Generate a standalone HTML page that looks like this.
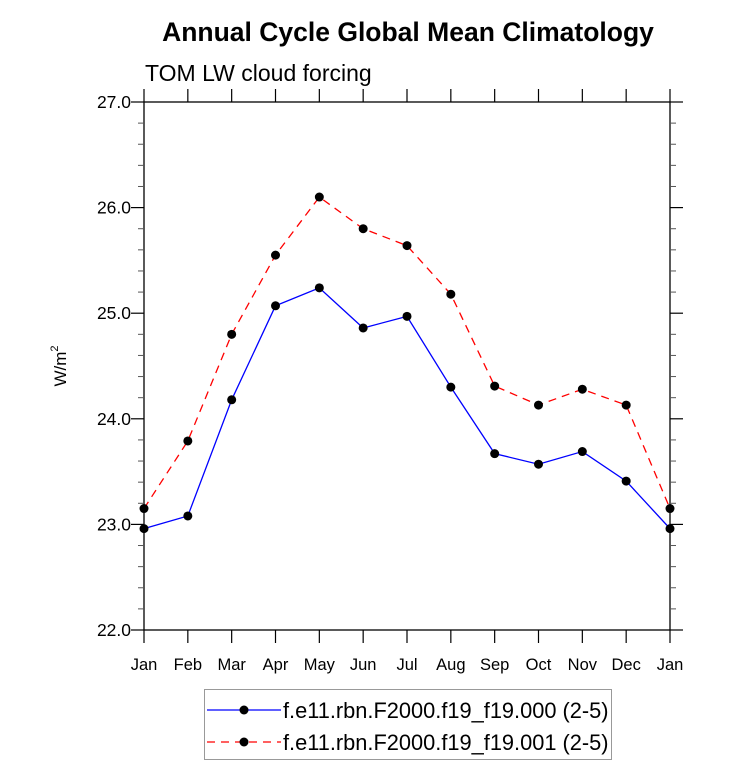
<!DOCTYPE html>
<html><head><meta charset="utf-8"><style>
html,body{margin:0;padding:0;background:#fff;}
svg{display:block;font-family:"Liberation Sans",Arial,sans-serif;}
</style></head><body>
<svg id="chart" width="733" height="782" viewBox="0 0 733 782" xmlns="http://www.w3.org/2000/svg">
<text x="408" y="41" text-anchor="middle" font-size="26.5" font-weight="bold">Annual Cycle Global Mean Climatology</text>
<text x="145" y="81" font-size="23">TOM LW cloud forcing</text>
<text transform="translate(66,366) rotate(-90)" text-anchor="middle" font-size="17">W/m<tspan dy="-8" font-size="11">2</tspan></text>
<g id="axes"></g>
<g id="series"></g>
<g>
<rect x="204.5" y="689.5" width="407" height="70" fill="none" stroke="#999" stroke-width="1"/>
<line x1="207" y1="710" x2="281" y2="710" stroke="#0000ff" stroke-width="1.3"/>
<circle cx="244" cy="710" r="4.5" fill="#000"/>
<text x="283" y="718" font-size="21.8">f.e11.rbn.F2000.f19_f19.000 (2-5)</text>
<line x1="207" y1="742" x2="281" y2="742" stroke="#ff0000" stroke-width="1.3" stroke-dasharray="8,6"/>
<circle cx="244" cy="742" r="4.5" fill="#000"/>
<text x="283" y="750" font-size="21.8">f.e11.rbn.F2000.f19_f19.001 (2-5)</text>
</g>
</svg>
<script>
const months = ["Jan","Feb","Mar","Apr","May","Jun","Jul","Aug","Sep","Oct","Nov","Dec","Jan"];
const series000 = [22.96,23.08,24.18,25.07,25.24,24.86,24.97,24.30,23.67,23.57,23.69,23.41,22.96];
const series001 = [23.15,23.79,24.80,25.55,26.10,25.80,25.64,25.18,24.31,24.13,24.28,24.13,23.15];
const yTicks = [22.0,23.0,24.0,25.0,26.0,27.0];
const yTickLabels = ["22.0","23.0","24.0","25.0","26.0","27.0"];

const L=144,R=670,T=102,B=630,yMin=22,yMax=27;
const NS="http://www.w3.org/2000/svg";
const xs=i=>L+(R-L)*i/(months.length-1);
const ys=v=>B-(B-T)*(v-yMin)/(yMax-yMin);
function mk(tag,attrs,parent){const e=document.createElementNS(NS,tag);for(const k in attrs)e.setAttribute(k,attrs[k]);parent.appendChild(e);return e;}
const ax=document.getElementById('axes');
const frame=mk('rect',{x:L,y:T,width:R-L,height:B-T,fill:'none',stroke:'#000','stroke-width':1.3},ax);


months.forEach((m,i)=>{
  const x=xs(i);
  mk('line',{x1:x,y1:B,x2:x,y2:B+13,stroke:'#000','stroke-width':1.2},ax);
  mk('line',{x1:x,y1:T,x2:x,y2:T-13,stroke:'#000','stroke-width':1.2},ax);
  const t=mk('text',{x:x,y:B+40,'text-anchor':'middle','font-size':16.5},ax);
  t.textContent=m;
  
  
});
yTicks.forEach((v,i)=>{
  const y=ys(v);
  mk('line',{x1:L-13,y1:y,x2:L,y2:y,stroke:'#000','stroke-width':1.2},ax);
  mk('line',{x1:R,y1:y,x2:R+13,y2:y,stroke:'#000','stroke-width':1.2},ax);
  const t=mk('text',{x:L-13,y:y+6,'text-anchor':'end','font-size':17.5},ax);
  t.textContent=yTickLabels[i];
  
  
  if(i<yTicks.length-1){for(let k=1;k<5;k++){const yy=ys(v+k*0.2);
    mk('line',{x1:L-6,y1:yy,x2:L,y2:yy,stroke:'#555','stroke-width':1},ax);
    mk('line',{x1:R,y1:yy,x2:R+6,y2:yy,stroke:'#555','stroke-width':1},ax);}}
});
const sg=document.getElementById('series');
function draw(data,color,dash,name){
  const pts=data.map((v,i)=>xs(i)+','+ys(v)).join(' ');
  const pl=mk('polyline',{points:pts,fill:'none',stroke:color,'stroke-width':1.3},sg);
  if(dash)pl.setAttribute('stroke-dasharray',dash);
  
  
  data.forEach((v,i)=>{const c=mk('circle',{cx:xs(i),cy:ys(v),r:4.5,fill:'#000'},sg);
    
    });
}
draw(series000,'#0000ff',null,'series-000');
draw(series001,'#ff0000','8,6','series-001');
</script>
</body></html>
